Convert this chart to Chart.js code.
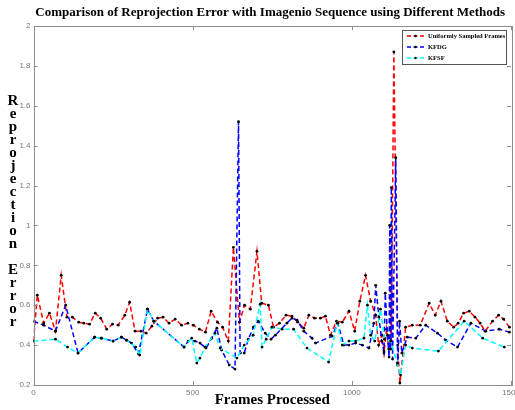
<!DOCTYPE html>
<html>
<head>
<meta charset="utf-8">
<script src="https://cdn.jsdelivr.net/npm/chart.js@4.4.0/dist/chart.umd.min.js"></script>
<style>
  html, body { margin: 0; padding: 0; background: #fff; }
  canvas { display: block; }
</style>
</head>
<body>
<canvas id="err" width="515" height="410"></canvas>
<script>
// reprojection error per processed frame, one pair of arrays per method
const uniformFrames = [0, 12, 32, 50, 69, 87, 105, 122, 142, 158, 176, 194, 211, 230, 248, 266, 287, 302, 319, 337,
  354, 372, 390, 407, 426, 445, 465, 485, 502, 521, 540, 558, 578, 594, 612, 628, 647, 663, 681, 702,
  717, 738, 754, 773, 793, 812, 830, 849, 865, 883, 901, 917, 933, 952, 970, 991, 1009, 1025, 1043, 1059,
  1075, 1084, 1094, 1101, 1109, 1116, 1124, 1132, 1144, 1151, 1169, 1190, 1215, 1243, 1262, 1280, 1300, 1320, 1334, 1351,
  1369, 1387, 1403, 1419, 1442, 1461, 1477, 1495];
const uniformError = [0.42, 0.65, 0.51, 0.56, 0.47, 0.75, 0.54, 0.54, 0.515, 0.51, 0.505, 0.56, 0.535, 0.48, 0.505, 0.50, 0.55, 0.615, 0.47, 0.47,
  0.46, 0.495, 0.535, 0.54, 0.51, 0.53, 0.50, 0.51, 0.50, 0.48, 0.465, 0.57, 0.515, 0.49, 0.42, 0.89, 0.515, 0.60, 0.58, 0.87,
  0.61, 0.60, 0.49, 0.51, 0.55, 0.545, 0.515, 0.485, 0.55, 0.535, 0.535, 0.545, 0.45, 0.52, 0.515, 0.57, 0.47, 0.62, 0.75, 0.62,
  0.55, 0.40, 0.45, 0.36, 0.48, 0.38, 0.42, 1.87, 0.40, 0.21, 0.49, 0.50, 0.50, 0.61, 0.55, 0.62, 0.52, 0.49, 0.51, 0.56,
  0.57, 0.54, 0.51, 0.47, 0.52, 0.55, 0.53, 0.49];

const kfdgFrames = [0, 32, 69, 101, 140, 192, 213, 250, 276, 292, 308, 330, 358, 378, 473, 486, 507, 523, 542, 560,
  576, 591, 615, 633, 644, 649, 662, 675, 691, 706, 728, 746, 760, 796, 812, 828, 849, 875, 886, 938,
  956, 975, 991, 1012, 1033, 1054, 1069, 1075, 1085, 1094, 1101, 1105, 1112, 1117, 1119, 1122, 1124, 1128, 1138, 1144,
  1150, 1157, 1174, 1201, 1232, 1269, 1295, 1332, 1374, 1421, 1463, 1495];
const kfdgError = [0.52, 0.50, 0.47, 0.60, 0.36, 0.44, 0.435, 0.42, 0.44, 0.425, 0.41, 0.356, 0.58, 0.52, 0.39, 0.42, 0.42, 0.41, 0.385, 0.435,
  0.485, 0.375, 0.30, 0.28, 1.52, 0.36, 0.36, 0.43, 0.49, 0.52, 0.46, 0.43, 0.45, 0.51, 0.535, 0.525, 0.47, 0.435, 0.41, 0.445,
  0.51, 0.40, 0.40, 0.41, 0.40, 0.385, 0.51, 0.70, 0.54, 0.42, 0.37, 0.66, 0.45, 0.34, 1.00, 0.38, 1.19, 0.33, 1.34, 0.30,
  0.52, 0.36, 0.44, 0.435, 0.50, 0.46, 0.425, 0.39, 0.51, 0.47, 0.48, 0.465];

const kfsfFrames = [0, 69, 107, 140, 192, 213, 250, 276, 292, 321, 334, 358, 378, 473, 497, 513, 523, 539, 570, 586,
  639, 662, 690, 712, 718, 731, 749, 781, 817, 859, 927, 954, 970, 991, 1012, 1038, 1049, 1059, 1072, 1090,
  1103, 1122, 1143, 1153, 1169, 1190, 1272, 1353, 1411, 1479];
const kfsfError = [0.42, 0.43, 0.39, 0.36, 0.44, 0.435, 0.42, 0.44, 0.425, 0.39, 0.35, 0.58, 0.52, 0.39, 0.435, 0.31, 0.335, 0.39, 0.46, 0.385,
  0.335, 0.40, 0.45, 0.605, 0.39, 0.43, 0.49, 0.48, 0.48, 0.385, 0.315, 0.51, 0.40, 0.42, 0.42, 0.435, 0.60, 0.45, 0.42, 0.58,
  0.43, 0.42, 0.31, 0.25, 0.40, 0.385, 0.37, 0.52, 0.435, 0.39];

const xTicks = [0, 500, 1000, 1500];
const xTickLabels = ['0', '500', '1000', '1500'];
const yTicks = [0.2, 0.4, 0.6, 0.8, 1, 1.2, 1.4, 1.6, 1.8, 2];
const yTickLabels = ['0.2', '0.4', '0.6', '0.8', '1', '1.2', '1.4', '1.6', '1.8', '2'];

const seriesNames = ['Uniformly Sampled Frames', 'KFDG', 'KFSF'];
const seriesColors = ['#ff0000', '#0000ff', '#00ffff'];

const SERIF = '"Liberation Serif", "Times New Roman", serif';
const SANS = '"Liberation Sans", Arial, sans-serif';

function series(i, frames, errs, order) {
  return {
    label: seriesNames[i],
    data: frames.map((f, k) => ({ x: f, y: errs[k] })),
    borderColor: seriesColors[i],
    borderWidth: 1.5,
    borderDash: [5, 3],
    pointRadius: 1.4,
    pointBackgroundColor: '#000',
    pointBorderColor: '#000',
    pointBorderWidth: 0,
    tension: 0,
    order: order
  };
}

// box, inward ticks, stacked y label, title and the legend panel
const frameBox = {
  id: 'frameBox',
  afterDraw(chart) {
    const { ctx, chartArea: a, scales: { x, y } } = chart;
    ctx.save();
    ctx.strokeStyle = '#8c8c8c';
    ctx.lineWidth = 1;
    ctx.strokeRect(Math.round(a.left) + 0.5, Math.round(a.top) + 0.5,
      Math.round(a.right - a.left), Math.round(a.bottom - a.top));
    ctx.beginPath();
    xTicks.forEach(v => {
      const px = Math.round(x.getPixelForValue(v)) + 0.5;
      ctx.moveTo(px, a.bottom); ctx.lineTo(px, a.bottom - 4);
      ctx.moveTo(px, a.top); ctx.lineTo(px, a.top + 4);
    });
    yTicks.forEach(v => {
      const py = Math.round(y.getPixelForValue(v)) + 0.5;
      ctx.moveTo(a.left, py); ctx.lineTo(a.left + 4, py);
      ctx.moveTo(a.right, py); ctx.lineTo(a.right - 4, py);
    });
    ctx.stroke();

    // title
    ctx.fillStyle = '#000';
    ctx.font = 'bold 13px ' + SERIF;
    ctx.textAlign = 'center';
    ctx.textBaseline = 'middle';
    ctx.fillText('Comparison of Reprojection Error with Imagenio Sequence using Different Methods',
      (a.left + a.right) / 2 - 2, 13);

    // y label, one upright letter per line
    ctx.font = 'bold 15px ' + SERIF;
    const label = 'Reprojection Error';
    for (let i = 0; i < label.length; i++) {
      if (label[i] !== ' ') ctx.fillText(label[i], 13, 101 + i * 13);
    }

    // legend panel
    const bw = 104, bh = 34;
    const bx = Math.round(a.right) - 5 - bw, by = Math.round(a.top) + 4;
    ctx.fillStyle = '#fff';
    ctx.fillRect(bx, by, bw, bh);
    ctx.strokeStyle = '#555';
    ctx.strokeRect(bx + 0.5, by + 0.5, bw, bh);
    ctx.font = 'bold 6.5px ' + SERIF;
    ctx.textAlign = 'left';
    seriesNames.forEach((name, i) => {
      const ly = by + 6 + i * 11;
      ctx.strokeStyle = seriesColors[i];
      ctx.lineWidth = 1.5;
      ctx.setLineDash([4, 2.5]);
      ctx.beginPath();
      ctx.moveTo(bx + 5, ly); ctx.lineTo(bx + 22, ly);
      ctx.stroke();
      ctx.setLineDash([]);
      ctx.fillStyle = '#000';
      ctx.beginPath();
      ctx.arc(bx + 13.5, ly, 1.2, 0, Math.PI * 2);
      ctx.fill();
      ctx.fillText(name, bx + 26, ly);
    });
    ctx.restore();
  }
};

new Chart(document.getElementById('err'), {
  type: 'line',
  data: {
    datasets: [
      series(0, uniformFrames, uniformError, 3),
      series(1, kfdgFrames, kfdgError, 2),
      series(2, kfsfFrames, kfsfError, 1)
    ]
  },
  options: {
    responsive: false,
    animation: false,
    layout: { padding: { top: 26, right: 4, left: 0, bottom: 0 } },
    plugins: {
      legend: { display: false },
      title: { display: false },
      tooltip: { enabled: false }
    },
    scales: {
      x: {
        type: 'linear',
        min: 0,
        max: 1500,
        grid: { display: false, drawTicks: false },
        border: { display: false },
        afterBuildTicks: s => { s.ticks = xTicks.map(v => ({ value: v })); },
        afterFit: s => { s.height = 25; s.paddingLeft = 0; s.paddingRight = 0; },
        ticks: {
          font: { size: 8, family: SANS },
          color: '#777',
          padding: 3,
          maxRotation: 0,
          autoSkip: false,
          callback: (v, i) => xTickLabels[i]
        },
        title: {
          display: true,
          text: 'Frames Processed',
          color: '#000',
          font: { size: 15, weight: 'bold', family: SERIF },
          padding: { top: 0, bottom: 1 }
        }
      },
      y: {
        type: 'linear',
        min: 0.2,
        max: 2,
        grid: { display: false, drawTicks: false },
        border: { display: false },
        afterBuildTicks: s => { s.ticks = yTicks.map(v => ({ value: v })); },
        afterFit: s => { s.width = 33.5; s.paddingTop = 0; s.paddingBottom = 0; },
        ticks: {
          font: { size: 8, family: SANS },
          color: '#777',
          padding: 3,
          autoSkip: false,
          callback: (v, i) => yTickLabels[i]
        }
      }
    }
  },
  plugins: [frameBox]
});
</script>
</body>
</html>
